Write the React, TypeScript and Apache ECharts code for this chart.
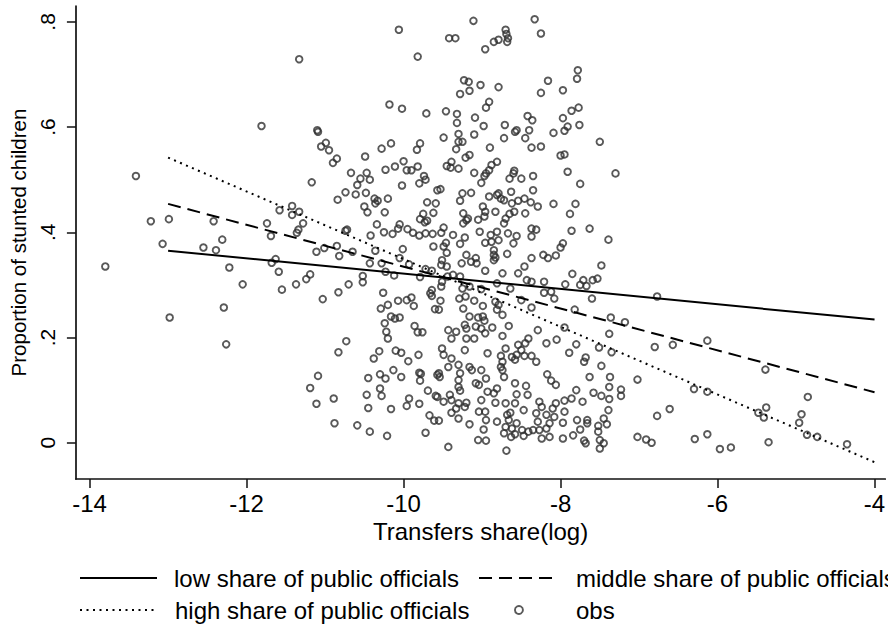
import React, { useEffect, useRef } from "react";
import * as echarts from "echarts";

const xTicks = [-14, -12, -10, -8, -6, -4];
const yTicks = [0, 0.2, 0.4, 0.6, 0.8];
const names = [
  "low share of public officials",
  "middle share of public officials",
  "high share of public officials",
  "obs",
];
const lowFit: [number, number][] = [[-13, 0.365], [-4, 0.234]];
const midFit: [number, number][] = [[-13, 0.454], [-4, 0.096]];
const highFit: [number, number][] = [[-13, 0.542], [-4, -0.037]];

const obs: [number, number][] = [
  [-11.33,.729],[-11.81,.602],[-11.10,.594],[-11.09,.591],[-10.99,.570],[-11.05,.563],[-10.95,.556],[-10.85,.540],[-10.90,.532],[-13.41,.507],
  [-11.17,.495],[-10.84,.462],[-13.22,.421],[-12.99,.425],[-12.42,.421],[-11.74,.417],[-11.58,.442],[-11.42,.450],[-11.42,.433],[-11.33,.439],
  [-11.28,.417],[-11.34,.405],[-11.36,.399],[-11.69,.393],[-12.31,.386],
  [-13.07,.378],[-12.55,.371],[-12.39,.366],[-13.80,.335],[-12.22,.333],[-12.05,.301],[-12.29,.257],[-12.98,.238],[-12.26,.187],[-11.68,.342],
  [-11.63,.349],[-11.59,.325],[-11.55,.291],[-11.37,.301],[-11.24,.311],[-11.19,.320],[-11.11,.363],[-11.01,.370],[-10.85,.374],[-10.82,.355],
  [-11.03,.273],[-10.83,.286],[-10.83,.172],[-11.09,.127],[-11.19,.104],[-11.11,.074],[-10.89,.084],[-10.88,.037],
  [-10.06,.785],[-9.82,.734],[-10.18,.643],[-10.02,.635],[-9.71,.626],[-10.16,.569],[-10.28,.559],[-9.79,.569],[-9.83,.557],[-10.49,.544],
  [-10.23,.519],[-10.11,.525],[-10.00,.535],[-9.96,.518],[-9.90,.518],[-9.82,.525],[-10.67,.513],[-10.47,.513],[-10.55,.502],[-10.43,.500],
  [-10.59,.490],[-9.74,.507],[-9.72,.500],[-9.80,.493],[-10.02,.489],[-10.74,.476],[-10.61,.472],[-10.48,.475],[-9.57,.480],[-10.37,.464],
  [-10.33,.460],[-10.36,.455],[-10.20,.464],[-10.50,.449],[-10.46,.438],[-10.24,.438],[-9.70,.457],[-9.59,.455],[-9.62,.437],[-9.75,.435],
  [-9.79,.425],[-9.70,.422],[-9.73,.419],[-10.34,.415],[-10.05,.415],[-10.07,.407],[-9.95,.406],[-9.88,.399],[-10.72,.405],[-10.74,.403],
  [-10.42,.394],[-10.25,.400],[-10.14,.397],[-9.80,.394],[-9.72,.398],[-9.63,.397],
  [-10.65,.363],[-10.36,.365],[-10.01,.368],[-10.05,.351],[-10.43,.341],[-10.28,.341],[-9.93,.339],[-9.62,.373],[-10.23,.325],[-10.12,.318],
  [-9.79,.315],[-9.72,.330],[-9.64,.327],[-10.52,.317],[-10.52,.305],[-10.70,.301],[-10.26,.285],[-10.07,.270],[-9.96,.271],[-9.90,.276],
  [-9.87,.260],[-10.20,.262],[-10.29,.255],[-9.66,.284],[-9.64,.290],[-9.64,.279],[-9.60,.254],[-10.24,.227],[-10.16,.240],[-10.11,.236],
  [-10.05,.238],[-10.22,.211],[-10.20,.198],[-9.86,.222],[-9.82,.210],[-9.76,.210],[-10.73,.193],[-10.31,.174],[-10.38,.160],[-10.10,.175],
  [-10.03,.171],[-9.94,.155],[-9.81,.167],[-10.45,.123],[-10.30,.130],[-10.23,.122],[-10.13,.138],[-10.03,.125],[-9.80,.133],[-9.78,.131],
  [-9.79,.118],[-9.57,.129],[-10.30,.103],[-10.28,.089],[-10.47,.091],[-10.45,.066],[-10.16,.064],[-9.93,.084],[-9.96,.070],[-9.80,.074],
  [-9.69,.099],[-9.59,.089],[-9.67,.052],[-9.61,.042],[-10.59,.033],[-10.43,.021],[-10.21,.013],[-9.72,.019],
  [-9.11,.802],[-9.42,.769],[-9.34,.769],[-8.70,.785],[-8.69,.777],[-8.67,.769],[-8.68,.762],[-8.79,.766],[-8.85,.762],[-8.96,.748],
  [-9.23,.689],[-9.17,.686],[-9.16,.669],[-9.28,.663],[-9.02,.680],[-8.79,.676],[-8.91,.648],[-8.95,.637],[-9.46,.630],[-9.32,.625],
  [-9.32,.608],[-9.09,.618],[-8.98,.602],[-8.71,.604],[-8.42,.621],[-8.36,.613],[-8.40,.594],[-8.58,.591],[-8.56,.594],[-9.49,.580],
  [-9.30,.587],[-9.10,.586],[-8.72,.579],[-8.45,.579],[-9.30,.572],[-9.25,.572],[-9.33,.558],[-8.90,.561],[-8.37,.561],[-9.16,.547],
  [-9.21,.542],[-9.45,.526],[-9.39,.534],[-9.40,.523],[-9.30,.521],[-9.10,.513],[-8.81,.534],[-8.88,.528],[-8.91,.518],[-8.95,.512],
  [-8.97,.507],[-9.01,.494],[-8.59,.517],[-8.60,.512],[-8.65,.502],[-8.50,.502],[-8.35,.507],[-8.35,.480],[-9.53,.482],[-9.25,.474],
  [-9.28,.460],[-9.14,.475],[-8.91,.468],[-8.81,.471],[-8.76,.464],[-8.79,.474],[-8.63,.477],[-8.72,.461],[-8.54,.460],[-8.46,.464],
  [-8.38,.457],[-8.62,.455],[-9.24,.436],[-9.20,.423],[-9.24,.417],[-9.18,.426],[-8.99,.449],[-8.96,.439],[-8.97,.430],[-9.05,.424],
  [-8.83,.439],[-8.70,.426],[-8.72,.417],[-8.65,.435],[-8.59,.439],[-8.45,.436],[-8.37,.407],[-9.49,.409],[-9.52,.399],[-9.37,.395],
  [-9.22,.390],[-9.03,.401],[-8.89,.395],[-8.81,.401],[-8.67,.398],[-8.56,.393],[-8.37,.392],
  [-8.79,.385],[-9.49,.373],[-9.46,.380],[-9.28,.378],[-9.45,.361],[-8.96,.380],[-8.88,.382],[-8.60,.379],[-8.68,.359],[-8.85,.366],
  [-8.85,.357],[-8.85,.347],[-8.83,.352],[-9.20,.357],[-9.14,.344],[-9.07,.341],[-9.08,.351],[-9.26,.341],[-9.51,.347],[-9.52,.338],
  [-9.45,.335],[-8.37,.351],[-8.46,.335],[-8.54,.322],[-8.74,.322],[-8.96,.327],[-8.43,.309],[-8.37,.306],[-9.37,.319],[-9.28,.316],
  [-9.44,.316],[-9.51,.306],[-9.52,.297],[-9.25,.293],[-9.16,.297],[-9.01,.292],[-8.81,.303],[-8.64,.293],[-8.50,.271],[-8.37,.257],
  [-9.29,.274],[-9.21,.278],[-9.10,.270],[-8.99,.260],[-8.83,.268],[-8.79,.262],[-8.81,.253],[-8.74,.243],[-9.53,.270],[-9.55,.253],
  [-9.24,.255],[-9.16,.240],[-9.05,.238],[-8.99,.240],[-8.97,.232],[-9.22,.224],[-9.20,.217],[-9.08,.221],[-9.01,.217],[-8.87,.219],
  [-8.66,.222],[-9.43,.214],[-9.39,.198],[-9.33,.211],[-9.20,.198],[-9.10,.198],[-8.96,.208],[-8.74,.203],[-8.41,.198],[-8.45,.189],
  [-8.54,.186],[-8.50,.176],[-8.56,.167],[-8.46,.165],[-8.37,.165],[-8.70,.179],[-8.62,.163],[-8.58,.158],[-8.76,.165],[-8.74,.154],
  [-8.76,.144],[-8.74,.138],[-8.72,.125],[-8.93,.170],[-9.22,.176],[-9.51,.179],[-9.49,.167],[-9.39,.160],[-9.43,.144],[-9.30,.148],
  [-9.16,.144],[-9.13,.138],[-9.01,.138],[-8.95,.122],[-9.28,.132],[-9.30,.119],[-9.30,.106],[-9.28,.099],[-9.55,.132],[-9.54,.125],
  [-9.08,.113],[-9.04,.110],[-8.81,.103],[-8.93,.097],[-8.85,.094],[-8.58,.113],[-8.44,.108],[-8.56,.092],[-8.42,.091],[-9.01,.081],
  [-8.83,.076],[-8.70,.075],[-8.58,.075],[-8.47,.062],[-9.57,.087],[-9.49,.078],[-9.41,.091],[-9.39,.081],[-9.30,.075],[-9.20,.076],
  [-9.22,.068],[-9.33,.065],[-9.39,.057],[-9.30,.046],[-9.55,.042],[-9.04,.059],[-8.96,.059],[-8.95,.043],[-8.98,.025],[-9.16,.035],
  [-8.68,.053],[-8.64,.057],[-8.66,.043],[-8.70,.030],[-8.81,.040],[-8.62,.027],[-8.56,.037],[-8.49,.024],[-8.41,.021],[-8.35,.024],
  [-8.58,.016],[-8.72,.018],[-9.05,.005],[-8.95,.004],[-8.63,.011],[-8.47,.013],[-9.43,-.008],[-8.69,-.015],
  [-8.33,.805],[-8.25,.778],[-7.78,.708],[-7.79,.692],[-8.16,.688],[-8.25,.665],[-7.97,.670],[-7.86,.631],[-7.77,.637],[-7.97,.617],
  [-7.76,.604],[-7.91,.601],[-7.95,.593],[-8.09,.589],[-7.50,.572],[-8.25,.563],[-8.00,.546],[-7.95,.548],[-7.91,.515],[-7.30,.512],
  [-7.75,.492],[-8.29,.449],[-8.09,.454],[-7.81,.454],[-7.88,.435],[-8.31,.405],[-7.86,.403],[-7.63,.407],[-7.39,.386],
  [-7.97,.379],[-8.00,.371],[-8.06,.356],[-8.16,.351],[-8.22,.357],[-7.48,.337],[-7.85,.321],[-7.71,.309],[-7.59,.309],[-7.53,.312],
  [-7.75,.300],[-7.67,.298],[-7.94,.301],[-8.21,.306],[-8.21,.285],[-8.12,.287],[-8.08,.274],[-7.60,.274],[-7.82,.253],[-7.36,.238],
  [-7.18,.229],[-7.95,.219],[-8.29,.214],[-7.38,.207],[-8.05,.196],[-8.18,.189],[-7.80,.187],[-7.51,.181],[-7.89,.171],[-7.35,.172],
  [-8.31,.154],[-7.68,.162],[-7.70,.154],[-7.48,.146],[-8.17,.130],[-7.63,.125],[-7.37,.125],[-7.02,.120],[-8.12,.118],[-8.06,.110],
  [-7.38,.106],[-7.80,.100],[-7.23,.101],[-7.58,.095],[-7.48,.089],[-7.38,.083],[-7.23,.089],[-7.86,.084],[-7.72,.078],[-7.95,.080],
  [-8.06,.075],[-8.27,.078],[-8.24,.068],[-8.10,.065],[-7.95,.059],[-7.39,.062],[-8.31,.056],[-8.18,.053],[-8.08,.049],[-7.79,.043],
  [-7.66,.043],[-7.45,.046],[-8.29,.040],[-8.14,.037],[-7.97,.038],[-7.66,.037],[-7.41,.035],[-7.52,.032],[-8.27,.024],[-8.18,.027],
  [-7.75,.025],[-7.52,.021],[-8.24,.008],[-8.14,.011],[-7.97,.008],[-7.84,.014],[-7.70,.004],[-7.68,-.001],[-7.50,.005],[-7.45,-.001],
  [-7.50,-.011],[-7.02,.011],
  [-6.77,.278],[-6.80,.182],[-6.57,.186],[-6.13,.194],[-5.39,.139],[-6.30,.102],[-6.13,.097],[-6.77,.051],[-6.61,.064],[-4.85,.087],
  [-5.38,.067],[-5.48,.057],[-5.41,.048],[-4.93,.054],[-4.96,.038],[-4.86,.015],[-4.73,.011],[-4.35,-.003],[-6.91,.006],[-6.84,.000],
  [-6.29,.007],[-6.13,.016],[-5.97,-.012],[-5.83,-.009],[-5.35,.001],
];

const FONT = "Liberation Sans";
const INK = "#000";
const MARK = "#2f2f2f";

function yFmt(v: number): string {
  if (Math.abs(v) < 1e-9) return "0";
  const s = String(Math.round(v * 10) / 10);
  return s.replace(/^0\./, ".").replace(/^-0\./, "-.");
}

export default function App() {
  const ref = useRef<HTMLDivElement>(null);
  useEffect(() => {
    if (!ref.current) return;
    const chart = echarts.init(ref.current, null, { renderer: "svg" });
    const legendText = (pad: number) => ({
      fontFamily: FONT,
      fontSize: 24,
      color: INK,
      padding: [0, 0, 0, pad],
    });
    const lineLegend = {
      orient: "horizontal",
      padding: 0,
      selectedMode: false,
      itemGap: 0,
      itemHeight: 14,
      itemStyle: { color: "rgba(0,0,0,0)", borderColor: "rgba(0,0,0,0)", borderWidth: 0 },
      lineStyle: { color: INK, width: 2 },
    };
    const lineSeries = (name: string, data: [number, number][], type: any) => ({
      type: "line",
      name,
      data,
      symbol: "none",
      showSymbol: false,
      clip: false,
      silent: true,
      z: 3,
      itemStyle: { color: "rgba(0,0,0,0)" },
      lineStyle: { color: INK, width: 2, type },
      emphasis: { disabled: true },
    });
    const option: any = {
      animation: false,
      backgroundColor: "#ffffff",
      grid: { left: 61, right: 0, top: 6, bottom: 147, containLabel: false },
      xAxis: {
        type: "value",
        min: -14.1746,
        max: -3.863,
        axisLine: { show: true, onZero: false, lineStyle: { color: "#111", width: 1.7 } },
        axisTick: { show: true, length: 9, customValues: xTicks, lineStyle: { color: "#111", width: 1.5 } },
        axisLabel: {
          customValues: xTicks,
          margin: 12,
          fontFamily: FONT,
          fontSize: 24,
          color: INK,
          formatter: (v: number) => String(v),
        },
        splitLine: { show: false },
        name: "Transfers share(log)",
        nameLocation: "middle",
        nameGap: 38,
        nameTextStyle: { fontFamily: FONT, fontSize: 24, color: INK },
      },
      yAxis: {
        type: "value",
        min: -0.069,
        max: 0.8302,
        axisLine: { show: true, onZero: false, lineStyle: { color: "#111", width: 1.7 } },
        axisTick: { show: true, length: 9, customValues: yTicks, lineStyle: { color: "#111", width: 1.5 } },
        axisLabel: {
          customValues: yTicks,
          rotate: 90,
          margin: 18,
          fontFamily: FONT,
          fontSize: 21,
          color: INK,
          formatter: yFmt,
        },
        splitLine: { show: false },
        name: "Proportion of stunted children",
        nameLocation: "middle",
        nameGap: 39,
        nameTextStyle: { fontFamily: FONT, fontSize: 20.5, color: INK },
      },
      legend: [
        { ...lineLegend, data: [names[0]], left: 79, top: 566, itemWidth: 77, textStyle: legendText(12) },
        { ...lineLegend, data: [names[1]], left: 478, top: 566, itemWidth: 74, textStyle: legendText(18) },
        { ...lineLegend, data: [names[2]], left: 79, top: 598, itemWidth: 77, textStyle: legendText(13) },
        {
          orient: "horizontal",
          padding: 0,
          selectedMode: false,
          itemGap: 0,
          data: [{ name: names[3], icon: "circle" }],
          left: 514,
          top: 598,
          itemWidth: 8,
          itemHeight: 8,
          itemStyle: { color: "rgba(0,0,0,0)", borderColor: MARK, borderWidth: 1.9 },
          textStyle: legendText(48),
        },
      ],
      series: [
        {
          type: "scatter",
          name: names[3],
          data: obs,
          symbol: "circle",
          symbolSize: 6.6,
          clip: false,
          silent: true,
          z: 2,
          itemStyle: { color: "rgba(0,0,0,0)", borderColor: MARK, borderWidth: 1.9 },
          emphasis: { disabled: true },
        },
        lineSeries(names[0], lowFit, "solid"),
        lineSeries(names[1], midFit, [13, 7]),
        lineSeries(names[2], highFit, [2, 4.5]),
      ],
    };
    chart.setOption(option);
    return () => chart.dispose();
  }, []);
  return (
    <div
      ref={ref}
      style={{ position: "fixed", left: 0, top: 0, width: 888, height: 626, background: "#fff" }}
    />
  );
}
